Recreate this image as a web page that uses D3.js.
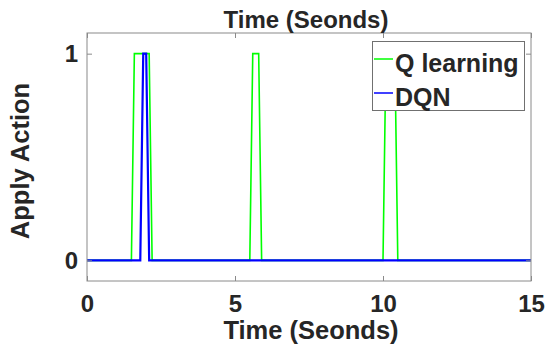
<!DOCTYPE html>
<html lang="en">
	<head>
		<meta charset="utf-8">
		<title>apply action</title>
		<script type="text/javascript" src="https://cdn.jsdelivr.net/npm/d3@7"></script>
		<style>
			body { margin: 0; background: #fff; }
			text { font-family: "Liberation Sans", Arial, sans-serif; font-weight: bold; fill: #262626; }
		</style>
	</head>
	<body>
		<script type="text/javascript">
			var width = 547
			var height = 351

			// breakpoints of the two step signals (time in s, action 0/1)
			var qTime   = [0, 1.5, 1.6, 2.1, 2.2, 5.5, 5.6, 5.8, 5.9, 10.0, 10.1, 10.4, 10.5, 15]
			var qAction = [0, 0,   1,   1,   0,   0,   1,   1,   0,   0,    1,    1,    0,    0]
			var dqnTime   = [0, 1.8, 1.9, 2.0, 2.1, 15]
			var dqnAction = [0, 0,   1,   1,   0,   0]

			var xTicks = [0, 5, 10, 15]
			var yTicks = [0, 1]
			var seriesNames = ["Q learning", "DQN"]
			var seriesColors = ["#00ff00", "#0000ff"]

			var m = {left: 87, right: 16, top: 33, bottom: 70}
			var svg = d3.select("body").append("svg").attr("width", width).attr("height", height)

			var x = d3.scaleLinear().domain([0, 15]).range([m.left, width - m.right])
			var y = d3.scaleLinear().domain([-0.1, 1.1]).range([height - m.bottom, m.top])

			var line = d3.line()
				.x(function(d) { return x(d[0]) })
				.y(function(d) { return y(d[1]) })

			var qData = d3.zip(qTime, qAction)
			var dqnData = d3.zip(dqnTime, dqnAction)

			svg.append("path").datum(qData).attr("d", line)
				.attr("fill", "none").attr("stroke", seriesColors[0]).attr("stroke-width", 1.6)
			svg.append("path").datum(dqnData).attr("d", line)
				.attr("fill", "none").attr("stroke", seriesColors[1]).attr("stroke-width", 2.2)

			// box axes, ticks pointing inwards
			var axisColor = "#8a8a8a"
			function styleAxis(g) {
				g.select(".domain").remove()
				g.selectAll(".tick line").attr("stroke", axisColor)
				g.selectAll(".tick text").style("font-size", "24px").attr("fill", "#262626")
			}
			svg.append("g").attr("transform", "translate(0," + y.range()[0] + ")")
				.call(d3.axisBottom(x).tickValues(xTicks).tickSize(-5).tickPadding(14))
				.call(styleAxis)
			svg.append("g").attr("transform", "translate(0," + y.range()[1] + ")")
				.call(d3.axisTop(x).tickValues(xTicks).tickSize(-5).tickFormat(""))
				.call(styleAxis)
			svg.append("g").attr("transform", "translate(" + x.range()[0] + ",0)")
				.call(d3.axisLeft(y).tickValues(yTicks).tickSize(-5).tickPadding(9).tickFormat(d3.format("d")))
				.call(styleAxis)
			svg.append("g").attr("transform", "translate(" + x.range()[1] + ",0)")
				.call(d3.axisRight(y).tickValues(yTicks).tickSize(-5).tickFormat(""))
				.call(styleAxis)

			svg.append("rect")
				.attr("x", x.range()[0]).attr("y", y.range()[1])
				.attr("width", x.range()[1] - x.range()[0]).attr("height", y.range()[0] - y.range()[1])
				.attr("fill", "none").attr("stroke", axisColor).attr("stroke-width", 1)

			// titles
			var cx = (x.range()[0] + x.range()[1]) / 2
			svg.append("text").attr("x", cx - 3).attr("y", 28).attr("text-anchor", "middle")
				.style("font-size", "24px").text("Time (Seonds)")
			svg.append("text").attr("x", cx + 2).attr("y", 339).attr("text-anchor", "middle")
				.style("font-size", "25.5px").text("Time (Seonds)")
			svg.append("text").attr("transform", "translate(29,161) rotate(-90)").attr("text-anchor", "middle")
				.style("font-size", "25.5px").text("Apply Action")

			// legend
			var lg = svg.append("g")
			lg.append("rect").attr("x", 372.5).attr("y", 41.5).attr("width", 152).attr("height", 69)
				.attr("fill", "#fff").attr("stroke", "#707070").attr("stroke-width", 1)
			seriesNames.forEach(function(name, i) {
				var ly = 59 + i * 34
				lg.append("line").attr("x1", 374).attr("x2", 393).attr("y1", ly).attr("y2", ly)
					.attr("stroke", seriesColors[i]).attr("stroke-width", 1.5)
				lg.append("text").attr("x", 395).attr("y", ly + 12.5)
					.style("font-size", "25px").attr("fill", "#000").text(name)
			})
		</script>
	</body>
</html>
